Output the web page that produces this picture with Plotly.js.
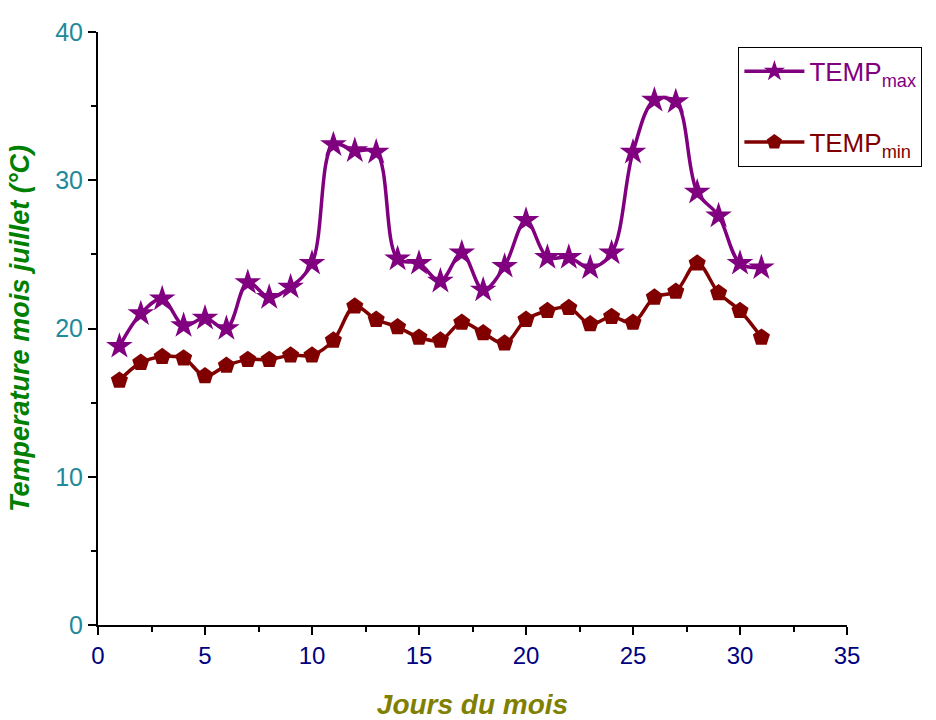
<!DOCTYPE html>
<html>
<head>
<meta charset="utf-8">
<script src="https://cdn.plot.ly/plotly-3.0.1.min.js"></script>
<style>html,body{margin:0;padding:0;background:#fff;}#chart{width:936px;height:720px;}</style>
</head>
<body>
<div id="chart"></div>
<script>
var days = [1,2,3,4,5,6,7,8,9,10,11,12,13,14,15,16,17,18,19,20,21,22,23,24,25,26,27,28,29,30,31];
var tempMax = [18.8,21.0,22.0,20.2,20.7,20.0,23.1,22.1,22.8,24.4,32.4,32.0,31.9,24.7,24.4,23.2,25.1,22.6,24.2,27.3,24.8,24.8,24.1,25.1,31.9,35.4,35.3,29.2,27.6,24.4,24.1];
var tempMin = [16.5,17.7,18.1,18.0,16.8,17.5,17.9,17.9,18.2,18.2,19.2,21.5,20.6,20.1,19.4,19.2,20.4,19.7,19.0,20.6,21.2,21.4,20.3,20.8,20.4,22.1,22.5,24.4,22.4,21.2,19.4];
var xTickVals = [0,5,10,15,20,25,30,35];
var yTickVals = [0,10,20,30,40];
var nameMax = '<span style="color:#800080">TEMP<sub>max</sub></span>';
var nameMin = '<span style="color:#800000">TEMP<sub>min</sub></span>';

var traces = [
  {x: days, y: tempMax, name: nameMax, legendgroup: 'a', type: 'scatter', mode: 'lines+markers',
   line: {color: '#800080', width: 3.5, shape: 'spline', smoothing: 1},
   marker: {symbol: 'star', size: 20, color: '#800080'}},
  {x: days, y: tempMin, name: nameMin, legendgroup: 'b', type: 'scatter', mode: 'lines+markers',
   line: {color: '#800000', width: 3.5, shape: 'spline', smoothing: 1},
   marker: {symbol: 'pentagon', size: 18, color: '#800000'}}
];

var layout = {
  width: 936, height: 720,
  margin: {l: 98, r: 89, t: 32, b: 95},
  paper_bgcolor: '#fff', plot_bgcolor: '#fff',
  font: {family: 'Liberation Sans, Arial, sans-serif'},
  xaxis: {
    range: [0, 35], tickvals: xTickVals, showgrid: false, zeroline: false,
    showline: true, linecolor: '#000', linewidth: 2,
    ticks: 'outside', ticklen: 8, tickwidth: 2, tickcolor: '#000',
    minor: {dtick: 2.5, ticks: 'outside', ticklen: 5, tickwidth: 2, tickcolor: '#000', showgrid: false},
    tickfont: {size: 24, color: '#000080'},
    title: {text: '<b><i>Jours du mois</i></b>', font: {size: 28, color: '#808000'}, standoff: 29}
  },
  yaxis: {
    range: [0, 40], tickvals: yTickVals, showgrid: false, zeroline: false,
    showline: true, linecolor: '#000', linewidth: 2,
    ticks: 'outside', ticklen: 8, tickwidth: 2, tickcolor: '#000',
    minor: {dtick: 5, ticks: 'outside', ticklen: 5, tickwidth: 2, tickcolor: '#000', showgrid: false},
    tickfont: {size: 25, color: '#218a9a'},
    title: {text: '<b><i>Temperature mois juillet (°C)</i></b>', font: {size: 27, color: '#008000'}, standoff: 18}
  },
  legend: {
    x: 0.855, y: 0.975, xanchor: 'left', yanchor: 'top',
    bordercolor: '#000', borderwidth: 1, bgcolor: '#fff',
    font: {size: 26, color: '#800080'}, tracegroupgap: 34, itemwidth: 60
  },
  showlegend: true
};

Plotly.newPlot('chart', traces, layout, {displayModeBar: false, staticPlot: true});
</script>
</body>
</html>
